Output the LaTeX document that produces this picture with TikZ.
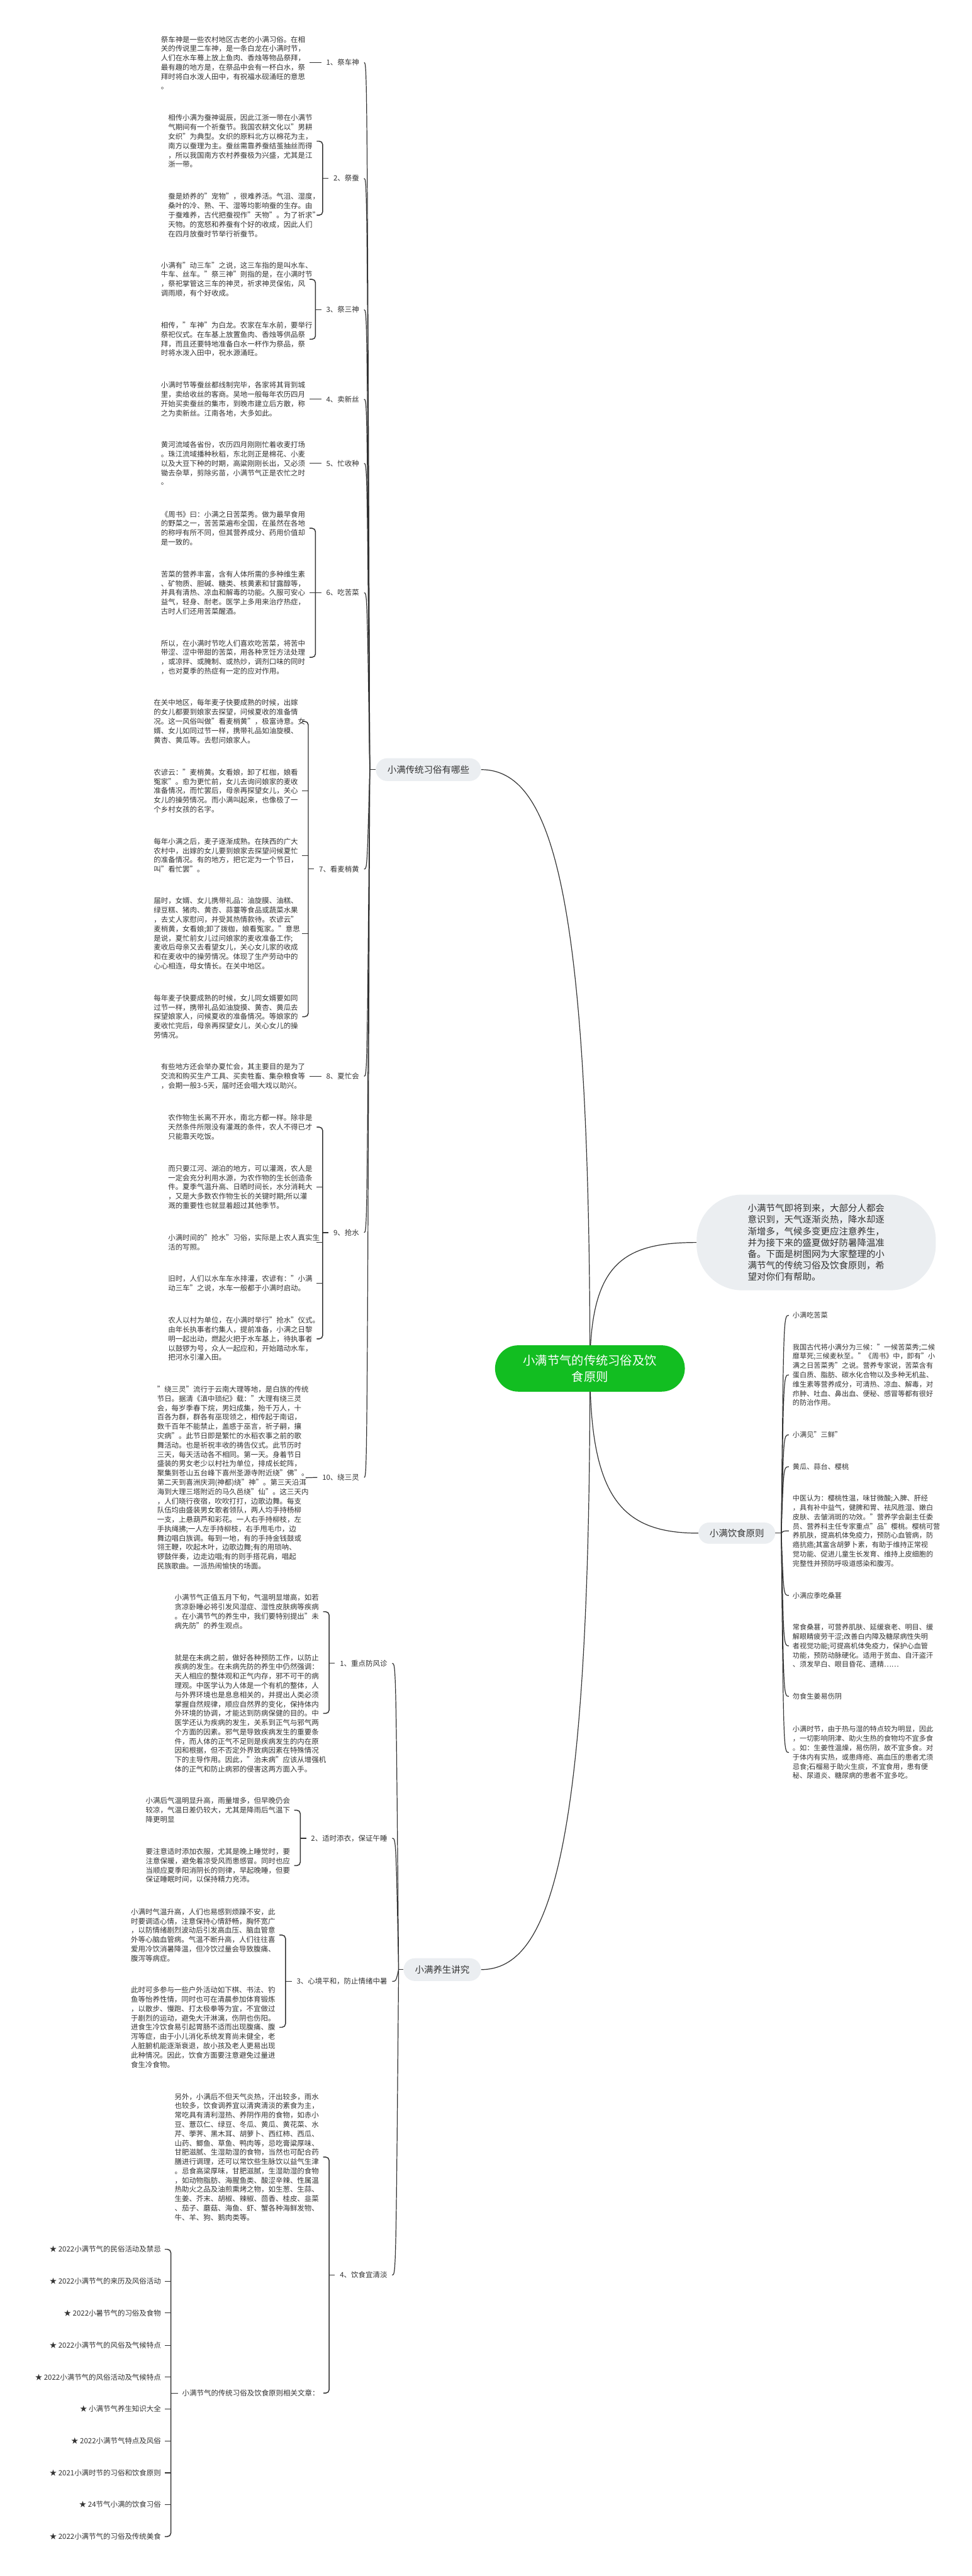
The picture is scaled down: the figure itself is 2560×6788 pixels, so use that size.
\documentclass[tikz,border=0pt]{standalone}
\usepackage{fontspec}
\setmainfont{Noto Sans CJK SC}
\pgfdeclarelayer{bg}
\pgfsetlayers{bg,main}
\definecolor{txtc}{HTML}{333333}
\definecolor{linec}{HTML}{333333}
\definecolor{pillc}{HTML}{EBEEF1}
\definecolor{rootc}{RGB}{18,190,33}
\newcommand\szA{\fontsize{19pt}{24.5pt}\selectfont}
\newcommand\szB{\fontsize{18.5pt}{24.5pt}\selectfont}
\newcommand\szC{\fontsize{24pt}{30pt}\selectfont}
\newcommand\szD{\fontsize{32pt}{44pt}\selectfont}
\begin{document}
\begin{tikzpicture}[x=1pt,y=-1pt,
  blk/.style={anchor=west, inner sep=0pt, outer xsep=11pt, outer ysep=0pt, text width=380pt, align=left, font=\szA, text=txtc},
  lab/.style={anchor=east, inner sep=0pt, outer xsep=13pt, font=\szA, text=txtc},
  lnk/.style={anchor=east, inner sep=0pt, outer xsep=10pt, font=\szA, text=txtc},
  dnode/.style={anchor=west, inner sep=0pt, outer xsep=10pt, font=\szB, text=txtc, align=left},
  pill/.style={fill=pillc, rounded corners=30pt, minimum height=60pt, inner sep=0pt, font=\szC, text=txtc},
  rootn/.style={fill=rootc, text=white, rounded corners=61pt, minimum width=500pt, minimum height=122pt, align=center, font=\szD, inner sep=0pt},
  intron/.style={fill=pillc, rounded corners=120pt, minimum width=630pt, minimum height=252pt, text width=360pt, align=left, font=\szC, text=txtc, inner sep=0pt},
  ln/.style={draw=linec, line width=2pt},
  br/.style={draw=linec, line width=2.4pt, rounded corners=9pt},
  mainc/.style={draw=linec, line width=2pt}
]
\useasboundingbox (0,0) rectangle (2560,6788);

% ---------- root and main branches ----------
\node[rootn] (root) at (1554,3606) {小满节气的传统习俗及饮\\食原则};
\node[pill, minimum width=277pt] (p1) at (1128.5,2028) {小满传统习俗有哪些};
\node[pill, minimum width=204pt] (p2) at (1165,5190) {小满养生讲究};
\node[pill, minimum width=202pt, minimum height=56pt, rounded corners=28pt] (p3) at (1941,4040) {小满饮食原则};
\node[intron] (intro) at (2150,3274) {小满节气即将到来，大部分人都会\\意识到，天气逐渐炎热，降水却逐\\渐增多，气候多变更应注意养生，\\并为接下来的盛夏做好防暑降温准\\备。下面是树图网为大家整理的小\\满节气的传统习俗及饮食原则，希\\望对你们有帮助。};

% ---------- branch 1 : customs ----------
\node[blk] (t11) at (413,165) {祭车神是一些农村地区古老的小满习俗。在相\\关的传说里二车神，是一条白龙在小满时节，\\人们在水车蓦上放上鱼肉、香烛等物品祭拜，\\最有趣的地方是，在祭品中会有一杯白水，祭\\拜时将白水泼人田中，有祝福水砚涌旺的意思\\。};
\node[lab] (l1) at (959,165) {1、祭车神};

\node[blk] (t21) at (432,372) {相传小满为蚕神诞辰，因此江浙一带在小满节\\气期间有一个祈蚕节。我国农耕文化以"男耕\\女织"为典型。女织的原料北方以棉花为主，\\南方以蚕理为主。蚕丝需靠养蚕结茧抽丝而得\\，所以我国南方农村养蚕极为兴盛，尤其是江\\浙一带。};
\node[blk] (t22) at (432,567) {蚕是娇养的"宠物"，很难养活。气沮、湿度，\\桑叶的冷、熟、干、湿等均影响蚕的生存。由\\于蚕难养，古代把蚕视作"天物"。为了祈求"\\天物。的宽怒和养蚕有个好的收成，因此人们\\在四月放蚕时节举行祈蚕节。};
\node[lab] (l2) at (959,470) {2、祭蚕};

\node[blk] (t31) at (413,736) {小满有"动三车"之说，这三车指的是叫水车、\\牛车、丝车。"祭三神"则指的是，在小满时节\\，祭祀掌管这三车的神灵，祈求神灵保佑，风\\调雨顺，有个好收成。};
\node[blk] (t32) at (413,894) {相传，"车神"为白龙。农家在车水前，要举行\\祭祀仪式。在车基上放置鱼肉、香烛等供品祭\\拜，而且还要特地准备白水一杯作为祭品，祭\\时将水泼入田中，祝水源涌旺。};
\node[lab] (l3) at (959,816) {3、祭三神};

\node[blk] (t41) at (413,1052) {小满时节等蚕丝都线制完毕，各家将其背到城\\里，卖给收丝的客商。吴地一般每年农历四月\\开始买卖蚕丝的集市，到晚市建立后方散，称\\之为卖新丝。江南各地，大多如此。};
\node[lab] (l4) at (959,1052) {4、卖新丝};

\node[blk] (t51) at (413,1221) {黄河流域各省份，农历四月刚刚忙着收麦打场\\。珠江流域播种秋稻，东北则正是棉花、小麦\\以及大豆下种的时期，高粱刚刚长出，又必须\\锄去杂草，剪除劣苗，小满节气正是农忙之时\\。};
\node[lab] (l5) at (959,1221) {5、忙收种};

\node[blk] (t61) at (413,1392) {《周书》曰：小满之日苦菜秀。做为最早食用\\的野菜之一，苦苦菜遍布全国，在虽然在各地\\的称呼有所不同，但其营养成分、药用价值却\\是一致的。};
\node[blk] (t62) at (413,1562) {苦菜的营养丰富，含有人体所需的多种维生素\\、矿物质、胆碱、糖类、核黄素和甘露醇等，\\并具有清热、凉血和解毒的功能。久服可安心\\益气，轻身、耐老。医学上多用来治疗热症，\\古时人们还用苦菜醒酒。};
\node[blk] (t63) at (413,1732) {所以，在小满时节吃人们喜欢吃苦菜，将苦中\\带涩、涩中带甜的苦菜，用各种烹饪方法处理\\，或凉拌、或腌制、或热炒，调剂口味的同时\\，也对夏季的热症有一定的应对作用。};
\node[lab] (l6) at (959,1562) {6、吃苦菜};

\node[blk] (t71) at (394,1901) {在关中地区，每年麦子快要成熟的时候，出嫁\\的女儿都要到娘家去探望，问候夏收的准备情\\况。这一风俗叫做"看麦梢黄"，极富诗意。女\\婿、女儿如同过节一样，携带礼品如油旋模、\\黄杏、黄瓜等。去慰问娘家人。};
\node[blk] (t72) at (394,2084) {农谚云："麦梢黄。女看娘，卸了杠枷，娘看\\冤家"。愈为更忙前，女儿去询问娘家的麦收\\准备情况，而忙罢后，母亲再探望女儿，关心\\女儿的操劳情况。而小满叫起来，也像极了一\\个乡村女孩的名字。};
\node[blk] (t73) at (394,2254) {每年小满之后，麦子逐渐成熟。在陕西的广大\\农村中，出嫁的女儿要到娘家去探望问候夏忙\\的准备情况。有的地方，把它定为一个节日，\\叫"看忙罢"。};
\node[blk] (t74) at (394,2460) {届时，女婿、女儿携带礼品：油旋膜、油糕、\\绿豆糕、猪肉、黄杏、蒜薹等食品或蔬菜水果\\，去丈人家慰问，并受其热情款待。农谚云"\\麦梢黄，女看娘;卸了拨枷，娘看冤家。"意思\\是说，夏忙前女儿过问娘家的麦收准备工作;\\麦收后母亲又去看望女儿，关心女儿家的收成\\和在麦收中的操劳情况。体现了生产劳动中的\\心心相连，母女情长。在关中地区。};
\node[blk] (t75) at (394,2679) {每年麦子快要成熟的时候，女儿同女婿要如同\\过节一样，携带礼品如油旋摸、黄杏、黄瓜去\\探望娘家人，问候夏收的准备情况。等娘家的\\麦收忙完后，母亲再探望女儿，关心女儿的操\\劳情况。};
\node[lab] (l7) at (959,2290) {7、看麦梢黄};

\node[blk] (t81) at (413,2836) {有些地方还会举办夏忙会，其主要目的是为了\\交流和购买生产工具、买卖牲畜、集杂粮食等\\，会期一般3-5天，届时还会唱大戏以助兴。};
\node[lab] (l8) at (959,2836) {8、夏忙会};

\node[blk] (t91) at (432,2970) {农作物生长离不开水，南北方都一样。除非是\\天然条件所限没有灌溉的条件，农人不得已才\\只能靠天吃饭。};
\node[blk] (t92) at (432,3128) {而只要江河、湖泊的地方，可以灌溉，农人是\\一定会充分利用水源，为农作物的生长创造条\\件。夏季气温升高、日晒时间长，水分消耗大\\，又是大多数农作物生长的关键时期;所以灌\\溉的重要性也就显着超过其他季节。};
\node[blk] (t93) at (432,3274) {小满时间的"抢水"习俗，实际是上农人真实生\\活的写照。};
\node[blk] (t94) at (432,3382) {旧时，人们以水车车水排灌，农谚有："小满\\动三车"之说，水车一般都于小满时启动。};
\node[blk] (t95) at (432,3528) {农人以村为单位，在小满时举行"抢水"仪式。\\由年长执事者约集人，提前准备，小满之日黎\\明一起出动，燃起火把于水车基上，待执事者\\以鼓锣为号，众人一起应和，开始踏动水车，\\把河水引灌入田。};
\node[lab] (l9) at (959,3248) {9、抢水};

\node[blk] (t101) at (403,3894) {"绕三灵"流行于云南大理等地，是白族的传统\\节日。据清《滇中琐纪》载："大理有绕三灵\\会，每岁季春下烷，男妇成集，殆千万人，十\\百各为群，群各有巫现领之，相传起于南诏，\\数千百年不能禁止，盖惑于巫言，祈子嗣，攘\\灾病"。此节日即是繁忙的水稻农事之前的歌\\舞活动。也是祈祝丰收的祷告仪式。此节历时\\三天，每天活动各不相同。第一天。身着节日\\盛装的男女老少以村社为单位，排成长蛇阵，\\聚集到苍山五台峰下喜州圣源寺附近绕"佛"。\\第二天到喜洲庆洞(神都)绕"神"。第三天沿洱\\海到大理三塔附近的马久邑绕"仙"。这三天内\\，人们晓行夜宿，吹吹打打，边歌边舞。每支\\队伍均由盛装男女歌者领队，两人均手持杨柳\\一支，上悬葫芦和彩花。一人右手持柳枝，左\\手执绳拂;一人左手持柳枝，右手甩毛巾，边\\舞边唱白族调。每到一地，有的手持金钱鼓或\\翎王鞭，吹起木叶，边歌边舞;有的用琐呐、\\锣鼓伴奏，边走边唱;有的则手搭花肩，唱起\\民族歌曲。一派热闹愉快的场面。};
\node[lab] (l10) at (959,3893) {10、绕三灵};

% ---------- branch 2 : health ----------
\node[blk] (t111) at (449,4247) {小满节气正值五月下旬，气温明显增高，如若\\贪凉卧睡必将引发风湿症、湿性皮肤病等疾病\\。在小满节气的养生中，我们要特别提出"未\\病先防"的养生观点。};
\node[blk] (t112) at (449,4515) {就是在未病之前，做好各种预防工作，以防止\\疾病的发生。在未病先防的养生中仍然强调：\\天人相应的整体观和正气内存，邪不可干的病\\理观。中医学认为人体是一个有机的整体，人\\与外界环境也是息息相关的，并提出人类必须\\掌握自然规律，顺应自然界的变化，保持体内\\外环境的协调，才能达到防病保健的目的。中\\医学还认为疾病的发生，关系到正气与邪气两\\个方面的因素。邪气是导致疾病发生的重要条\\件，而人体的正气不足则是疾病发生的内在原\\因和根据，但不否定外界致病因素在特殊情况\\下的主导作用。因此，"治未病"应该从增强机\\体的正气和防止病邪的侵害这两方面入手。};
\node[lab] (m1) at (1033,4383) {1、重点防风诊};

\node[blk] (t121) at (373,4770) {小满后气温明显升高，雨量增多，但早晚仍会\\较凉，气温日差仍较大，尤其是降雨后气温下\\降更明显};
\node[blk] (t122) at (373,4916) {要注意适时添加衣服，尤其是晚上睡觉时，要\\注意保暖，避免着凉受风而患感冒。同时也应\\当顺应夏季阳消阴长的则律，早起晚睡，但要\\保证睡眠时间，以保持精力充沛。};
\node[lab] (m2) at (1033,4844) {2、适时添衣，保证午睡};

\node[blk] (t131) at (334,5099) {小满时气温升高，人们也易感到烦躁不安，此\\时要调适心情，注意保持心情舒畅，胸怀宽广\\，以防情绪剧烈波动后引发高血压、脑血管意\\外等心脑血管病。气温不断升高，人们往往喜\\爱用冷饮消暑降温，但冷饮过量会导致腹痛、\\腹泻等病症。};
\node[blk] (t132) at (334,5342) {此时可多参与一些户外活动如下棋、书法、钓\\鱼等怡养性情，同时也可在清晨参加体育锻炼\\，以散步、慢跑、打太极拳等为宜，不宜做过\\于剧烈的运动，避免大汗淋漓，伤阴也伤阳。\\进食生冷饮食易引起胃肠不适而出现腹痛、腹\\泻等症，由于小儿消化系统发育尚未健全，老\\人脏腑机能逐渐衰退，故小孩及老人更易出现\\此种情况。因此，饮食方面要注意避免过量进\\食生冷食物。};
\node[lab] (m3) at (1033,5221) {3、心境平和，防止情绪中暑};

\node[blk] (t141) at (449,5684) {另外，小满后不但天气炎热，汗出较多，雨水\\也较多，饮食调养宜以清爽清淡的素食为主，\\常吃具有清利湿热、养阴作用的食物，如赤小\\豆、薏苡仁、绿豆、冬瓜、黄瓜、黄花菜、水\\芹、荸荠、黑木耳、胡萝卜、西红柿、西瓜、\\山药、鲫鱼、草鱼、鸭肉等，忌吃膏粱厚味、\\甘肥滋腻、生湿助湿的食物，当然也可配合药\\膳进行调理，还可以常饮些生脉饮以益气生津\\。忌食高梁厚味，甘肥滋腻，生湿助湿的食物\\，如动物脂肪、海腥鱼类、酸涩辛辣、性属温\\热助火之品及油煎熏烤之物，如生葱、生蒜、\\生姜、芥末、胡椒、辣椒、茴香、桂皮、韭菜\\、茄子、蘑菇、海鱼、虾、蟹各种海鲜发物、\\牛、羊、狗、鹅肉类等。};
\node[lab] (m4) at (1033,5995) {4、饮食宜清淡};
\node[anchor=west, inner sep=0pt, outer xsep=11pt, font=\szA, text=txtc] (rel) at (469,6306) {小满节气的传统习俗及饮食原则相关文章：};

\node[lnk] (k1) at (434,5927) {★ 2022小满节气的民俗活动及禁忌};
\node[lnk] (k2) at (434,6011) {★ 2022小满节气的来历及风俗活动};
\node[lnk] (k3) at (434,6095) {★ 2022小暑节气的习俗及食物};
\node[lnk] (k4) at (434,6180) {★ 2022小满节气的风俗及气候特点};
\node[lnk] (k5) at (434,6264) {★ 2022小满节气的风俗活动及气候特点};
\node[lnk] (k6) at (434,6348) {★ 小满节气养生知识大全};
\node[lnk] (k7) at (434,6432) {★ 2022小满节气特点及风俗};
\node[lnk] (k8) at (434,6516) {★ 2021小满时节的习俗和饮食原则};
\node[lnk] (k9) at (434,6600) {★ 24节气小满的饮食习俗};
\node[lnk] (k10) at (434,6684) {★ 2022小满节气的习俗及传统美食};

% ---------- branch 3 : diet ----------
\node[dnode] (d1) at (2078,3466) {小满吃苦菜};
\node[dnode] (d2) at (2078,3623) {我国古代将小满分为三候："一候苦菜秀;二候\\靡草死;三候麦秋至。"《周书》中，即有"小\\满之日苦菜秀"之说。营养专家说，苦菜含有\\蛋白质、脂肪、碳水化合物以及多种无机盐、\\维生素等营养成分，可清热、凉血、解毒，对\\疖肿、吐血、鼻出血、便秘、感冒等都有很好\\的防治作用。};
\node[dnode] (d3) at (2078,3781) {小满见"三鲜"};
\node[dnode] (d4) at (2078,3865) {黄瓜、蒜台、樱桃};
\node[dnode] (d5) at (2078,4034) {中医认为：樱桃性温，味甘微酸;入脾、肝经\\，具有补中益气，健脾和胃、祛风胜湿、嫩白\\皮肤、去皱消斑的功效。"营养学会副主任委\\员、营养科主任专家重点"品"樱桃。樱桃可营\\养肌肤，提高机体免疫力，预防心血管病，防\\癌抗癌;其富含胡萝卜素，有助于维持正常视\\觉功能、促进儿童生长发育、维持上皮细胞的\\完整性并预防呼吸道感染和腹泻。};
\node[dnode] (d6) at (2078,4204) {小满应季吃桑葚};
\node[dnode] (d7) at (2078,4337) {常食桑葚，可营养肌肤、延缓衰老、明目、缓\\解眼睛疲劳干涩;改善白内障及糖尿病性失明\\者视觉功能;可提高机体免疫力，保护心血管\\功能，预防动脉硬化。适用于贫血、自汗盗汗\\、须发早白、眼目昏花、遗精……};
\node[dnode] (d8) at (2078,4470) {勿食生姜易伤阴};
\node[dnode] (d9) at (2078,4618) {小满时节，由于热与湿的特点较为明显，因此\\，一切影响阴津、助火生热的食物均不宜多食\\。如：生姜性温燥，易伤阴，故不宜多食。对\\于体内有实热，或患痔疮、高血压的患者尤须\\忌食;石榴易于助火生痰，不宜食用，患有便\\秘、尿道炎、糖尿病的患者不宜多吃。};

% ---------- connectors (background layer) ----------
\begin{pgfonlayer}{bg}
\fill[white] (0,0) rectangle (2560,6788);
\draw[mainc] (root.center) .. controls (1554,2330) and (1450,2028) .. (p1.east);
\draw[mainc] (root.center) .. controls (1554,4880) and (1450,5190) .. (p2.east);
\draw[mainc] (root.center) .. controls (1554,3330) and (1640,3274) .. (intro.west);
\draw[mainc] (root.center) .. controls (1554,3950) and (1640,4040) .. (p3.west);

% branch 1 bundle
\coordinate (s1) at (974,2028);
\coordinate (tr1) at (967,0);
\draw[ln] (p1.west) -- (s1);
\foreach \n in {l1,l2,l3,l4,l5,l6,l7,l8,l9,l10}
  \draw[ln] (s1) .. controls (tr1 |- \n.east) and (tr1 |- \n.east) .. (\n.east);

\draw[ln] (t11.east) -- (l1.west);
\coordinate (v2) at (850,0);
\draw[br] (t21.east) -- (v2 |- t21.east) -- (v2 |- t22.east) -- (t22.east);
\draw[ln] (v2 |- l2.west) -- (l2.west);
\coordinate (v3) at (831,0);
\draw[br] (t31.east) -- (v3 |- t31.east) -- (v3 |- t32.east) -- (t32.east);
\draw[ln] (v3 |- l3.west) -- (l3.west);
\draw[ln] (t41.east) -- (l4.west);
\draw[ln] (t51.east) -- (l5.west);
\coordinate (v6) at (831,0);
\draw[br] (t61.east) -- (v6 |- t61.east) -- (v6 |- t63.east) -- (t63.east);
\draw[ln] (v6 |- t62.east) -- (t62.east);
\draw[ln] (v6 |- l6.west) -- (l6.west);
\coordinate (v7) at (812,0);
\draw[br] (t71.east) -- (v7 |- t71.east) -- (v7 |- t75.east) -- (t75.east);
\foreach \n in {t72,t73,t74} \draw[ln] (v7 |- \n.east) -- (\n.east);
\draw[ln] (v7 |- l7.west) -- (l7.west);
\draw[ln] (t81.east) -- (l8.west);
\coordinate (v9) at (850,0);
\draw[br] (t91.east) -- (v9 |- t91.east) -- (v9 |- t95.east) -- (t95.east);
\foreach \n in {t92,t93,t94} \draw[ln] (v9 |- \n.east) -- (\n.east);
\draw[ln] (v9 |- l9.west) -- (l9.west);
\draw[ln] (t101.east) -- (l10.west);

% branch 2 bundle
\coordinate (s2) at (1050,5190);
\coordinate (tr2) at (1043,0);
\draw[ln] (p2.west) -- (s2);
\foreach \n in {m1,m2,m3,m4}
  \draw[ln] (s2) .. controls (tr2 |- \n.east) and (tr2 |- \n.east) .. (\n.east);
\coordinate (vm1) at (867,0);
\draw[br] (t111.east) -- (vm1 |- t111.east) -- (vm1 |- t112.east) -- (t112.east);
\draw[ln] (vm1 |- m1.west) -- (m1.west);
\coordinate (vm2) at (791,0);
\draw[br] (t121.east) -- (vm2 |- t121.east) -- (vm2 |- t122.east) -- (t122.east);
\draw[ln] (vm2 |- m2.west) -- (m2.west);
\coordinate (vm3) at (752,0);
\draw[br] (t131.east) -- (vm3 |- t131.east) -- (vm3 |- t132.east) -- (t132.east);
\draw[ln] (vm3 |- m3.west) -- (m3.west);
\coordinate (vm4) at (867,0);
\draw[br] (t141.east) -- (vm4 |- t141.east) -- (vm4 |- rel.east) -- (rel.east);
\draw[ln] (vm4 |- m4.west) -- (m4.west);
\coordinate (vk) at (450,0);
\draw[br] (k1.east) -- (vk |- k1.east) -- (vk |- k10.east) -- (k10.east);
\foreach \n in {k2,k3,k4,k5,k6,k7,k8,k9} \draw[ln] (vk |- \n.east) -- (\n.east);
\draw[ln] (vk |- rel.west) -- (rel.west);

% branch 3 bundle
\coordinate (s3) at (2058,4040);
\coordinate (tr3) at (2064,0);
\draw[ln] (p3.east) -- (s3);
\foreach \n in {d1,d2,d3,d4,d5,d6,d7,d8,d9}
  \draw[ln] (s3) .. controls (tr3 |- \n.west) and (tr3 |- \n.west) .. (\n.west);
\end{pgfonlayer}
\end{tikzpicture}
\end{document}
